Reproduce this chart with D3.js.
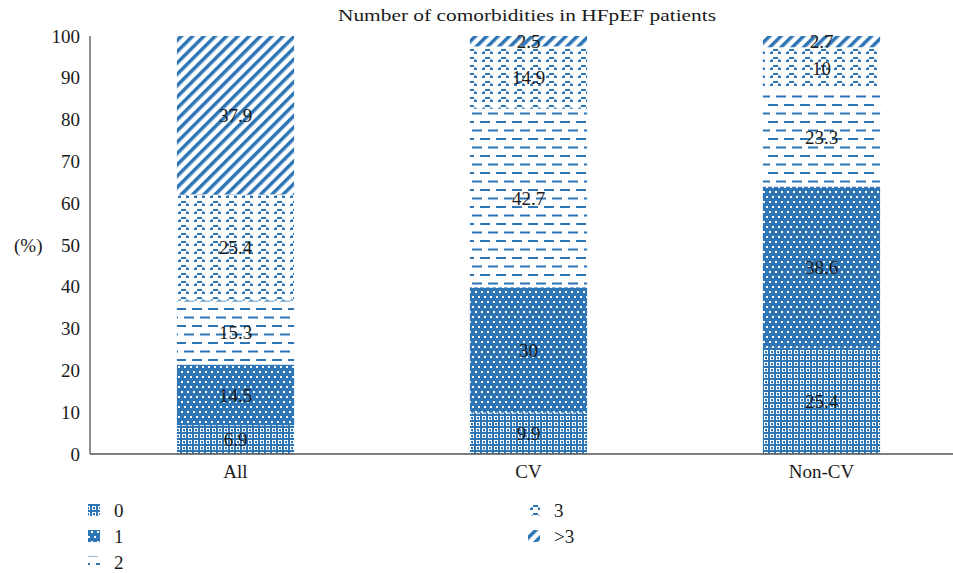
<!DOCTYPE html>
<html><head><meta charset="utf-8">
<script src="https://cdn.jsdelivr.net/npm/d3@7"></script>
<style>body{margin:0;background:#fff}</style>
</head><body>
<svg id="c" width="953" height="573"></svg>
<script>
const categories = ["All", "CV", "Non-CV"];
const seriesNames = ["0", "1", "2", "3", ">3"];
const s0 = [6.9, 9.9, 25.4];
const s1 = [14.5, 30, 38.6];
const s2 = [15.3, 42.7, 23.3];
const s3 = [25.4, 14.9, 10];
const s4 = [37.9, 2.5, 2.7];
const yTicks = [0, 10, 20, 30, 40, 50, 60, 70, 80, 90, 100];
const title = "Number of comorbidities in HFpEF patients";

const seriesVals = [s0, s1, s2, s3, s4];
const data = categories.map((c, i) => {
  const o = {cat: c};
  seriesNames.forEach((s, k) => o[s] = seriesVals[k][i]);
  return o;
});
const blue = "#2e75b6";
const font = "Liberation Serif, serif";
const txt = "#1a1a1a";
const svg = d3.select("#c");
const defs = svg.append("defs");

function pat(id, w, h, draw, transform) {
  const p = defs.append("pattern").attr("id", id).attr("patternUnits", "userSpaceOnUse")
    .attr("width", w).attr("height", h);
  if (transform) p.attr("patternTransform", transform);
  p.append("rect").attr("width", w).attr("height", h).attr("fill", "#fff");
  draw(p);
}
// 0: plaid / small grid
pat("p0", 6, 6, p => {
  p.append("rect").attr("x",0).attr("y",0).attr("width",6).attr("height",2).attr("fill",blue);
  p.append("rect").attr("x",0).attr("y",0).attr("width",2).attr("height",6).attr("fill",blue);
  p.append("rect").attr("x",3).attr("y",3).attr("width",2).attr("height",2).attr("fill",blue);
  p.append("rect").attr("x",4).attr("y",3).attr("width",1).attr("height",3).attr("fill",blue).attr("opacity",0.5);
});
// 1: blue with white dots
pat("p1", 12, 10, p => {
  p.select("rect").attr("fill", blue);
  [[1,1],[7,1],[4,6],[10,6]].forEach(([x,y]) =>
    p.append("rect").attr("x",x).attr("y",y).attr("width",2).attr("height",2).attr("fill","#fff"));
});
// 2: dashed horizontal
pat("p2", 16, 17, p => {
  p.append("rect").attr("x",0).attr("y",2).attr("width",10).attr("height",2).attr("fill",blue);
  p.append("rect").attr("x",8).attr("y",10.5).attr("width",8).attr("height",2).attr("fill",blue);
  p.append("rect").attr("x",0).attr("y",10.5).attr("width",2).attr("height",2).attr("fill",blue);
});
// 3: small arches
pat("p3", 16, 8, p => {
  p.append("rect").attr("x",5).attr("y",1).attr("width",5).attr("height",2).attr("fill",blue);
  p.append("rect").attr("x",3).attr("y",3).attr("width",2).attr("height",1).attr("fill",blue).attr("opacity",0.6);
  p.append("rect").attr("x",10).attr("y",3).attr("width",2).attr("height",1).attr("fill",blue).attr("opacity",0.6);
  p.append("rect").attr("x",2).attr("y",4).attr("width",3).attr("height",2).attr("fill",blue);
  p.append("rect").attr("x",10).attr("y",4).attr("width",3).attr("height",2).attr("fill",blue);
});
// >3: wide upward diagonal
pat("p4", 8, 8, p => {
  p.append("rect").attr("x",0).attr("y",0).attr("width",3.5).attr("height",8).attr("fill",blue);
}, "rotate(45)");
const patIds = ["p0","p1","p2","p3","p4"];

const x = d3.scaleBand().domain(categories).range([89, 968]).paddingInner(0.6).paddingOuter(0.3);
const y = d3.scaleLinear().domain([0, 100]).range([454, 36]);

const stack = d3.stack().keys(seriesNames)(data);

const g = svg.append("g");
stack.forEach((layer, k) => {
  g.selectAll(null).data(layer).enter().append("rect")
    .attr("x", d => x(d.data.cat))
    .attr("width", x.bandwidth())
    .attr("y", d => y(d[1]))
    .attr("height", d => y(d[0]) - y(d[1]))
    .attr("fill", `url(#${patIds[k]})`);
});
// data labels
stack.forEach((layer, k) => {
  g.selectAll(null).data(layer).enter().append("text")
    .attr("x", d => x(d.data.cat) + x.bandwidth() / 2)
    .attr("y", d => y((d[0] + d[1]) / 2))
    .attr("dy", "0.35em")
    .attr("text-anchor", "middle")
    .attr("font-family", font)
    .attr("font-size", 19)
    .attr("fill", txt)
    .text(d => d.data[layer.key]);
});

// axes
svg.append("line").attr("x1", 90).attr("x2", 90).attr("y1", y(100)).attr("y2", y(0))
  .attr("stroke", "#444").attr("stroke-width", 1.2);
svg.append("line").attr("x1", 90).attr("x2", 953).attr("y1", y(0)).attr("y2", y(0))
  .attr("stroke", "#555").attr("stroke-width", 1.6);

const yAxis = svg.append("g").attr("transform", "translate(90,0)")
  .call(d3.axisLeft(y).tickValues(yTicks).tickSize(0).tickPadding(10));
yAxis.select(".domain").remove();
yAxis.selectAll("text").attr("font-family", font).attr("font-size", 19).attr("fill", txt);

const xAxis = svg.append("g").attr("transform", `translate(0,${y(0)})`)
  .call(d3.axisBottom(x).tickSize(0).tickPadding(11));
xAxis.select(".domain").remove();
xAxis.selectAll("text").attr("font-family", font).attr("font-size", 19).attr("fill", txt);

svg.append("text").attr("x", 14).attr("y", y(50)).attr("dy", "0.35em")
  .attr("font-family", font).attr("font-size", 19).attr("fill", txt).text("(%)");

svg.append("text").attr("x", 527).attr("y", 21).attr("text-anchor", "middle")
  .attr("font-family", font).attr("font-size", 17.5).attr("fill", txt)
  .attr("textLength", 378).attr("lengthAdjust", "spacingAndGlyphs").text(title);

// legend
const legPos = [[88, 510], [88, 536], [88, 562], [528, 510], [528, 536]];
seriesNames.forEach((s, k) => {
  const [lx, ly] = legPos[k];
  svg.append("rect").attr("x", lx).attr("y", ly - 6).attr("width", 12).attr("height", 12)
    .attr("fill", `url(#${patIds[k]})`);
  svg.append("text").attr("x", lx + 26).attr("y", ly).attr("dy", "0.35em")
    .attr("font-family", font).attr("font-size", 19).attr("fill", txt).text(s);
});
</script>
</body></html>
